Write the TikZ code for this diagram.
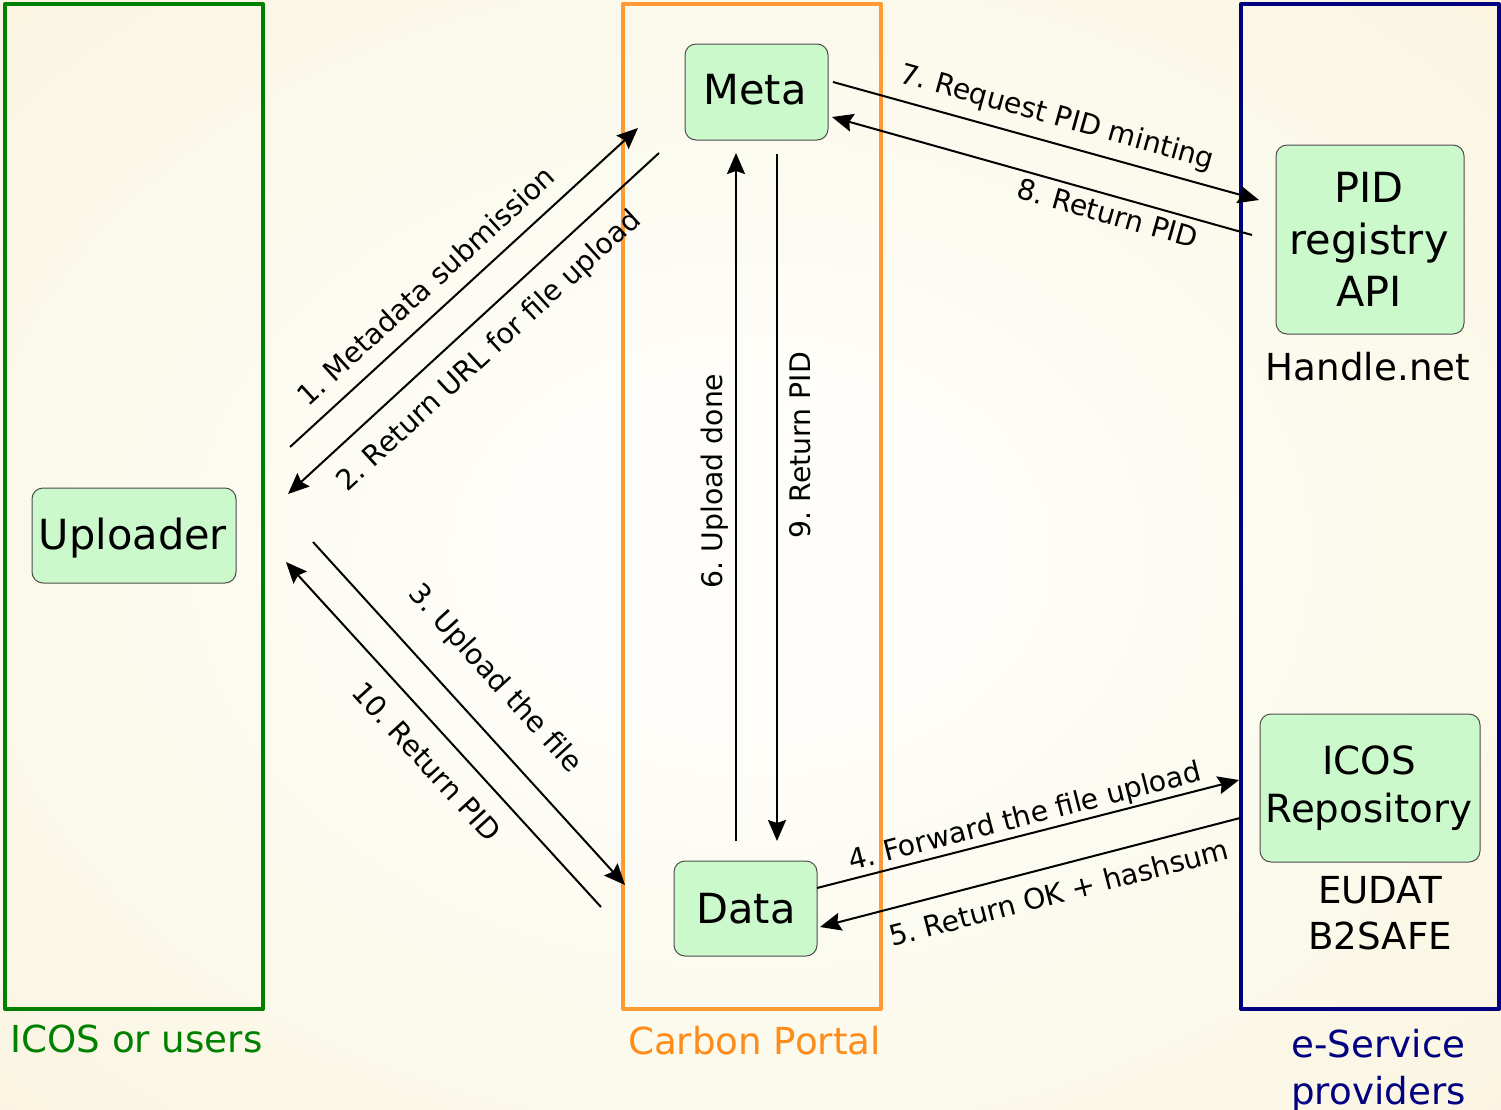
\documentclass[tikz,border=0pt]{standalone}
\usepackage{fontspec}
\setmainfont{DejaVu Sans}
\usetikzlibrary{arrows.meta}
\definecolor{nodegreen}{HTML}{CCF9CC}
\definecolor{framegreen}{HTML}{008000}
\definecolor{frameorange}{HTML}{FF9933}
\definecolor{textorange}{HTML}{FF8C1A}
\definecolor{frameblue}{HTML}{000080}
\definecolor{bgmid}{HTML}{FBF9EA}
\definecolor{bgcorner}{HTML}{FBF4E1}
\definecolor{bgin}{HTML}{FEFDF9}
\pgfdeclareradialshading{pagebg}{\pgfpoint{0bp}{0bp}}{%
  color(0bp)=(bgin); color(8bp)=(bgin); color(25bp)=(bgmid); color(36bp)=(bgcorner); color(50bp)=(bgcorner)}
\tikzset{
  frame/.style={draw=#1,line width=4pt,line join=round,outer sep=0pt,inner sep=0pt,anchor=north west,minimum width=258pt,minimum height=1005pt},
  unit/.style={draw=black!70,fill=nodegreen,line width=1pt,rounded corners=11pt,inner sep=0pt,outer sep=0pt,anchor=north west,align=center},
  bigtext/.style={font=\fontsize{41.5}{52}\selectfont},
  midtext/.style={font=\fontsize{37.2}{48}\selectfont,align=center},
  edgetext/.style={font=\frenchspacing\fontsize{28.3}{35}\selectfont,inner sep=0pt},
  link/.style={line width=2pt,-{Stealth[length=21pt,width=18pt,inset=3pt]}}
}
\begin{document}
\begin{tikzpicture}[x=1pt,y=-1pt]
\useasboundingbox (0,0) rectangle (1501,1109);
\shade[shading=pagebg] (0,0) rectangle (1501,1109);
% frames
\node[frame=framegreen] (fg) at (5,4) {};
\node[frame=frameorange] (fo) at (623,4) {};
\node[frame=frameblue] (fb) at (1241,4) {};
% units
\node[unit,minimum width=143pt,minimum height=96pt] (meta) at (685,44) {};
\node[bigtext] (metat) at (755,90) {Meta};
\node[unit,minimum width=204pt,minimum height=95pt] (up) at (32,488) {};
\node[bigtext] (upt) at (133,538) {Uploader};
\node[unit,minimum width=143pt,minimum height=95pt] (data) at (674,861) {};
\node[bigtext] (datat) at (746,909) {Data};
\node[unit,minimum width=188pt,minimum height=189pt] (pid) at (1276,145) {};
\node[bigtext,align=center] (pidt) at (1369,239.5) {PID\\registry\\API};
\node[unit,minimum width=220pt,minimum height=148pt] (icos) at (1260,714) {};
\node[midtext,font=\fontsize{38.8}{48}\selectfont] (icost) at (1369,788) {ICOS\\Repository};
% captions
\node[midtext] (handle) at (1368,366.5) {Handle.net};
\node[midtext,font=\fontsize{37.2}{46}\selectfont] (eudat) at (1380,913) {EUDAT\\B2SAFE};
\node[midtext,text=framegreen] (lg) at (136.5,1039) {ICOS or users};
\node[midtext,text=textorange] (lo) at (754.5,1040.5) {Carbon Portal};
\node[midtext,text=frameblue,font=\fontsize{37.2}{47}\selectfont] (lb) at (1378.5,1071) {e-Service\\providers};
% connector ends
\coordinate (a1) at (290,447); \coordinate (b1) at (638,128);
\coordinate (a2) at (659,153); \coordinate (b2) at (288,494);
\coordinate (a3) at (313,542); \coordinate (b3) at (625,885);
\coordinate (a4) at (817,888); \coordinate (b4) at (1239,780);
\coordinate (a5) at (1240,818); \coordinate (b5) at (820,927);
\coordinate (a6) at (736,841); \coordinate (b6) at (736,153);
\coordinate (a7) at (833,82); \coordinate (b7) at (1259,200);
\coordinate (a8) at (1252,235); \coordinate (b8) at (832,117);
\coordinate (a9) at (777,154); \coordinate (b9) at (777,841);
\coordinate (a10) at (601,907); \coordinate (b10) at (286,562);
\draw[link] (a1) -- (b1);
\draw[link] (a2) -- (b2);
\draw[link] (a3) -- (b3);
\draw[link] (a4) -- (b4);
\draw[link] (a5) -- (b5);
\draw[link] (a6) -- (b6);
\draw[link] (a7) -- (b7);
\draw[link] (a8) -- (b8);
\draw[link] (a9) -- (b9);
\draw[link] (a10) -- (b10);
% connector labels
\node[edgetext,rotate=42.5] (l1) at (425.5,285.5) {1. Metadata submission};
\node[edgetext,rotate=42.5] (l2) at (489.5,351.5) {2. Return URL for file upload};
\node[edgetext,rotate=-47.7] (l3) at (494.5,679) {3. Upload the file};
\node[edgetext,rotate=14.4] (l4) at (1025,818) {4. Forward the file upload};
\node[edgetext,rotate=14.6] (l5) at (1058.5,892.5) {5. Return OK + hashsum};
\node[edgetext,rotate=90] (l6) at (715,481) {6. Upload done};
\node[edgetext,rotate=-15.5] (l7) at (1057,118) {7. Request PID minting};
\node[edgetext,rotate=-15.7] (l8) at (1108,213) {8. Return PID};
\node[edgetext,rotate=90] (l9) at (800,445) {9. Return PID};
\node[edgetext,rotate=-47.6] (l10) at (427,761.5) {10. Return PID};
\end{tikzpicture}
\end{document}
